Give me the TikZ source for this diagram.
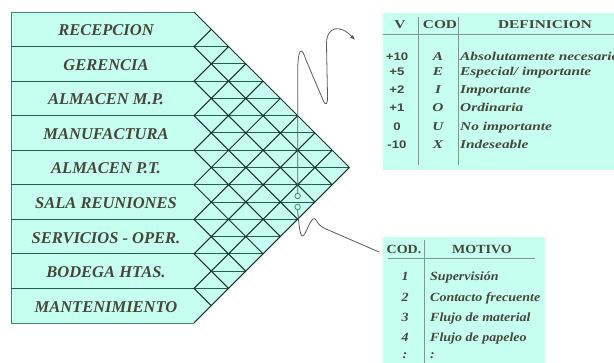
\documentclass[tikz,border=0pt]{standalone}
\usepackage{fontspec}
\setmainfont{Liberation Serif}
\newfontfamily\tabfont[FakeStretch=1.28]{Liberation Serif}
\newfontfamily\motfont[FakeStretch=1.12]{Liberation Serif}
\newfontfamily\numfont[FakeStretch=1.2]{Liberation Sans}
\usetikzlibrary{arrows.meta}
\definecolor{aguamar}{RGB}{198,255,240}
\definecolor{tinta}{RGB}{70,70,58}
\definecolor{bordeverde}{RGB}{70,130,115}
\definecolor{filaverde}{RGB}{35,95,80}
\definecolor{rejilla}{RGB}{25,50,40}
\definecolor{lineagris}{RGB}{135,148,144}
\definecolor{grishilo}{RGB}{90,90,90}
\begin{document}
\begin{tikzpicture}[x=1pt,y=-1pt,
  depto/.style={font=\fontsize{16.5}{18}\selectfont\bfseries\itshape,text=tinta,inner sep=0pt,anchor=base},
  cab1/.style={font=\tabfont\fontsize{12}{14}\selectfont\bfseries,text=tinta,inner sep=0pt,anchor=base},
  cab2/.style={font=\motfont\fontsize{12.5}{14}\selectfont\bfseries,text=tinta,inner sep=0pt,anchor=base},
  valor/.style={font=\numfont\fontsize{11}{12}\selectfont\bfseries,text=tinta,inner sep=0pt,anchor=base},
  letra/.style={font=\tabfont\fontsize{12}{14}\selectfont\bfseries\itshape,text=tinta,inner sep=0pt,anchor=base},
  razon/.style={font=\motfont\fontsize{12.5}{14}\selectfont\bfseries\itshape,text=tinta,inner sep=0pt,anchor=base},
  fila/.style={filaverde,line width=1pt},
  diag/.style={rejilla,line width=1pt},
  separa/.style={lineagris,line width=1pt},
  punto/.style={circle,draw=bordeverde,fill=aguamar,line width=0.8pt,inner sep=0pt,minimum size=5.5pt},
  hilo/.style={grishilo,line width=0.8pt}]
\useasboundingbox (0,0) rectangle (614,363);
\def\xo{194}
\def\yo{12}
\def\rh{34.55}
% matriz de relaciones
\fill[aguamar] (11,\yo) -- (\xo,\yo) -- (\xo+4.5*\rh,\yo+4.5*\rh) -- (\xo,\yo+9*\rh) -- (11,\yo+9*\rh) -- cycle;
\draw[bordeverde,line width=0.8pt] (\xo,\yo) -- (11,\yo) -- (11,\yo+9*\rh) -- (\xo,\yo+9*\rh);
\foreach \k in {1,...,8}
  \draw[fila] (11,\yo+\k*\rh) -- (\xo,\yo+\k*\rh);
\foreach \m in {2,...,16} {
  \pgfmathsetmacro\xa{\xo+mod(\m,2)*\rh/2}
  \pgfmathsetmacro\xb{\xo+min(\m,18-\m)*\rh/2}
  \draw[fila] (\xa,\yo+\m*\rh/2) -- (\xb,\yo+\m*\rh/2);
}
\foreach \k in {0,...,9}
  \draw[diag] (\xo+\k*\rh/2,\yo+\k*\rh/2) -- (\xo,\yo+\k*\rh) -- (\xo+4.5*\rh-\k*\rh/2,\yo+\k*\rh+4.5*\rh-\k*\rh/2);
\foreach \i/\txt in {1/RECEPCION,2/GERENCIA,3/ALMACEN M.P.,4/MANUFACTURA,5/ALMACEN P.T.,
    6/SALA REUNIONES,7/SERVICIOS - OPER.,8/BODEGA HTAS.,9/MANTENIMIENTO}
  \node[depto] (depto\i) at (106,\yo+\i*\rh-\rh/2+6.5) {\txt};
% casilla marcada
\node[punto] (sup) at (\xo+3*\rh,196) {};
\node[punto] (inf) at (\xo+3*\rh,207) {};
% tabla de valores
\fill[aguamar] (383,13) rectangle (614,170);
\draw[separa] (383,35) -- (614,35);
\draw[separa] (418,17) -- (418,165);
\draw[separa] (458,17) -- (458,165);
\node[cab1] (hv) at (400,29) {V};
\node[cab1] (hcod) at (440,29) {COD};
\node[cab1] (hdef) at (545,29) {DEFINICION};
\foreach \v/\c/\d/\yb in {+10/A/Absolutamente necesario/61,+5/E/{Especial/ importante}/76,
    +2/I/Importante/94,+1/O/Ordinaria/112,0/U/No importante/130.5,-10/X/Indeseable/149} {
  \node[valor] at (397,\yb) {\v};
  \node[letra] at (438,\yb) {\c};
  \node[letra,anchor=base west] at (460,\yb) {\d};
}
% tabla de motivos
\fill[aguamar] (383,237) rectangle (545,363);
\draw[separa] (388,259) -- (535,259);
\draw[separa] (424,240) -- (424,363);
\node[cab2] (mcod) at (404,254) {COD.};
\node[cab2] (mmot) at (482,254) {MOTIVO};
\foreach \n/\r/\yb in {1/Supervisión/281,2/Contacto frecuente/302,3/Flujo de material/321.5,
    4/Flujo de papeleo/342,:/:/359}
{
  \node[razon] at (405,\yb) {\n};
  \node[razon,anchor=base west] at (430,\yb) {\r};
}
% hilos hacia las tablas
\coordinate (puntaA) at (355,40);
\coordinate (finB) at (379,252);
\draw[hilo,-{Latex[length=5pt,width=4pt]}] (sup.north) -- (297.65,75)
  .. controls (297.65,45) and (302,47) .. (306,60) -- (323,100)
  .. controls (326,107) and (328,104) .. (327.5,95) -- (326.5,45)
  .. controls (326,26) and (340,24) .. (puntaA);
\draw[hilo] (inf.south) .. controls (299,225) and (300,240) .. (304,235)
  .. controls (308,229) and (312,214) .. (316,220)
  .. controls (318,224) and (321,227) .. (326,229) -- (finB);
\end{tikzpicture}
\end{document}
